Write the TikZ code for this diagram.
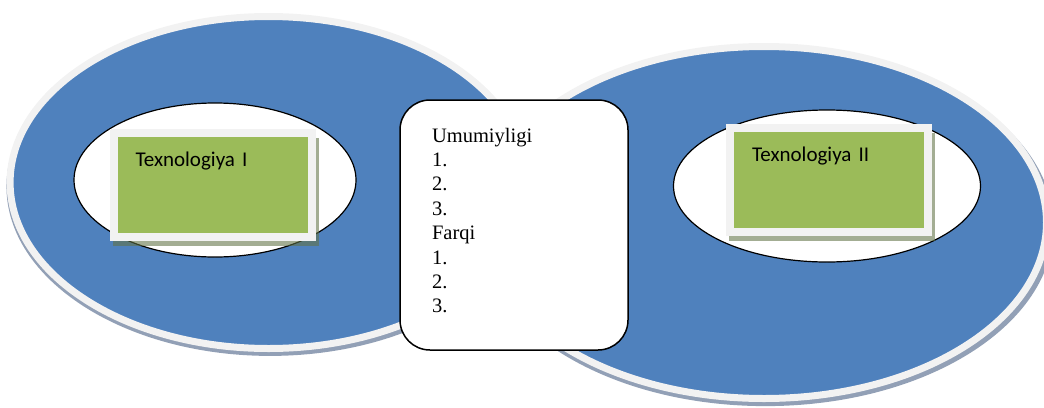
\documentclass[tikz,border=0pt]{standalone}
\usepackage{fontspec}
\setmainfont{Liberation Serif}
\newfontfamily\boxfont{Carlito}
\usetikzlibrary{positioning}
\usetikzlibrary{shapes}
\usetikzlibrary{shadows}
\definecolor{outerblue}{HTML}{4F81BD}
\definecolor{rimgray}{HTML}{F2F2F2}
\definecolor{outershadow}{HTML}{92A0B6}
\definecolor{techgreen}{HTML}{9BBB59}
\definecolor{techshadow}{RGB}{98,115,70}
\tikzstyle{Outer} = [ellipse,inner sep=0pt,fill=outerblue,draw=rimgray,line width=7pt,
  drop shadow={shadow xshift=1.5pt,shadow yshift=-4pt,shadow scale=1.02,fill=outershadow,opacity=1}]
\tikzstyle{Inner} = [ellipse,inner sep=0pt,fill=white,draw=black,line width=1.2pt]
\tikzstyle{Tech} = [rectangle,fill=techgreen,draw=rimgray,line width=8pt,
  inner xsep=22pt,inner ysep=0pt,text width=154pt,text height=34pt,text depth=70pt,
  align=left,font=\boxfont\fontsize{21}{25}\selectfont,
  drop shadow={shadow xshift=3pt,shadow yshift=-7pt,shadow scale=1.04,fill=techshadow,opacity=0.58}]
\tikzstyle{Cmp} = [rectangle,rounded corners=30pt,fill=white,draw=black,line width=1.5pt,
  inner xsep=32pt,inner ysep=0pt,text width=164pt,text height=42pt,text depth=208pt,
  align=left,font=\fontsize{20.5}{24.4}\selectfont]

\begin{document}
\begin{tikzpicture}[x=1pt,y=-1pt]
  \useasboundingbox (0,0) rectangle (1044,407);

  \node [Outer,minimum width=517pt,minimum height=332pt] (big1) at (268.6,182.5) {};
  \node [Outer,minimum width=565pt,minimum height=352pt] (big2) at (764,222.5) {};

  \node [Inner,minimum width=282pt,minimum height=154pt] (inn1) at (215,180) {};
  \node [Inner,minimum width=307pt,minimum height=152pt] (inn2) at (827,186) {};

  \node [Tech] (tex1) at (212.5,184.5) {Texnologiya I};
  \node [Tech] (tex2) at (829,179.5) {Texnologiya II};

  \node [Cmp] (cmp) at (514,225) {Umumiyligi\\1.\\2.\\3.\\Farqi\\1.\\2.\\3.};
\end{tikzpicture}
\end{document}
